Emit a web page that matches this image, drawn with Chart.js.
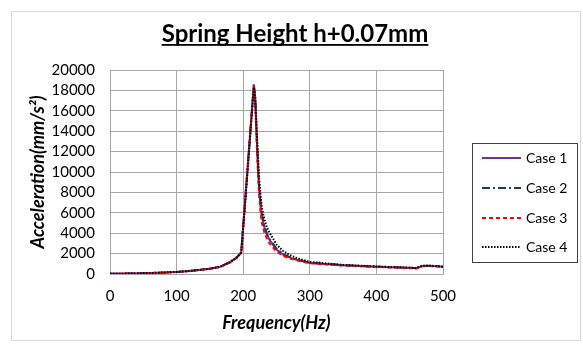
<!DOCTYPE html>
<html>
<head>
<meta charset="utf-8">
<script src="https://cdn.jsdelivr.net/npm/chart.js@4.4.1/dist/chart.umd.min.js"></script>
<style>
  html, body { margin: 0; padding: 0; background: #fff; }
  canvas { display: block; }
</style>
</head>
<body>
<canvas id="c" width="583" height="345"></canvas>
<script>
const chartTitle = 'Spring Height h+0.07mm';
const xTitle = 'Frequency(Hz)';
const yTitle = 'Acceleration(mm/s\u00B2)';
const seriesNames = ['Case 1', 'Case 2', 'Case 3', 'Case 4'];

const freq  = [0, 25, 50, 75, 100, 120, 140, 150, 165, 180, 190, 197, 203, 209, 213, 216, 218, 220, 222, 224, 226, 228, 232, 236, 240, 250, 260, 270, 280, 300, 350, 400, 450, 460, 465, 470, 480, 490, 500];
const case1 = [20, 40, 70, 130, 200, 300, 440, 520, 700, 1150, 1600, 2100, 7300, 12500, 16000, 18600, 17200, 13800, 10700, 8200, 6700, 5600, 4500, 3800, 3300, 2400, 1900, 1600, 1400, 1080, 850, 700, 600, 560, 700, 800, 790, 760, 700];
const case2 = [20, 40, 70, 130, 200, 300, 440, 520, 700, 1150, 1600, 2100, 7200, 12400, 15900, 18500, 17300, 14000, 11000, 8500, 7000, 5800, 4700, 3900, 3400, 2500, 1950, 1650, 1420, 1100, 860, 710, 610, 570, 710, 810, 800, 770, 710];
const case3 = [20, 40, 70, 130, 200, 300, 440, 520, 700, 1150, 1600, 2100, 7300, 12600, 16100, 18500, 17000, 13300, 10100, 7600, 6100, 5000, 4000, 3400, 2950, 2200, 1780, 1520, 1350, 1050, 840, 690, 590, 550, 690, 790, 780, 750, 690];
const case4 = [20, 40, 70, 130, 200, 300, 440, 520, 700, 1150, 1600, 2100, 7000, 12200, 15700, 18300, 17400, 14600, 11800, 9300, 7700, 6500, 5300, 4500, 4000, 2900, 2250, 1850, 1580, 1180, 900, 740, 630, 590, 720, 820, 810, 780, 720];

const xMin = 0, xMax = 500, xStep = 100;
const yMin = 0, yMax = 20000, yStep = 2000;

const styles = [
  { color: '#7030A0', dash: [] },
  { color: '#1F3A5F', dash: [8, 3, 2, 3] },
  { color: '#FF0000', dash: [4, 3] },
  { color: '#000000', dash: [1.5, 1.5] }
];

const allSeries = [case1, case2, case3, case4];
const datasets = allSeries.map((s, i) => ({
  label: seriesNames[i],
  data: freq.map((f, k) => ({ x: f, y: s[k] })),
  borderColor: styles[i].color,
  backgroundColor: styles[i].color,
  borderDash: styles[i].dash,
  borderWidth: 2,
  pointRadius: 0,
  tension: 0,
  fill: false,
  order: allSeries.length - i
}));

const FONT = 'Lato, "Open Sans", sans-serif';

const decorPlugin = {
  id: 'decor',
  beforeDraw(chart) {
    const ctx = chart.ctx;
    ctx.save();
    ctx.fillStyle = '#ffffff';
    ctx.fillRect(0, 0, chart.width, chart.height);
    ctx.strokeStyle = '#D9D9D9';
    ctx.lineWidth = 1;
    ctx.strokeRect(11.5, 11.5, 569, 329);
    ctx.restore();
  },
  afterDraw(chart) {
    const ctx = chart.ctx;
    ctx.save();
    // Title with underline
    ctx.font = 'bold 24px ' + FONT;
    ctx.fillStyle = '#000';
    ctx.textAlign = 'center';
    ctx.textBaseline = 'alphabetic';
    const tx = 295, ty = 42;
    ctx.fillText(chartTitle, tx, ty);
    const w = ctx.measureText(chartTitle).width;
    ctx.fillRect(tx - w / 2, ty + 2, w, 1.8);

    // Legend box
    const lx = 472.5, ly = 143.5, lw = 105, lh = 119;
    ctx.strokeStyle = '#404040';
    ctx.lineWidth = 1;
    ctx.setLineDash([]);
    ctx.strokeRect(lx, ly, lw, lh);
    const rows = [158, 188, 218, 247];
    ctx.font = '14px ' + FONT;
    ctx.textAlign = 'left';
    ctx.textBaseline = 'middle';
    chart.data.datasets.forEach((ds, i) => {
      const y = rows[i];
      ctx.beginPath();
      ctx.setLineDash(ds.borderDash || []);
      ctx.strokeStyle = ds.borderColor;
      ctx.lineWidth = ds.borderWidth;
      ctx.moveTo(482, y);
      ctx.lineTo(521, y);
      ctx.stroke();
      ctx.setLineDash([]);
      ctx.fillStyle = '#000';
      ctx.fillText(ds.label, 526, y);
    });
    ctx.restore();
  }
};

new Chart(document.getElementById('c'), {
  type: 'line',
  data: { datasets },
  plugins: [decorPlugin],
  options: {
    responsive: false,
    animation: false,
    layout: { padding: { left: 12, top: 70, right: 140, bottom: 0 } },
    plugins: {
      legend: { display: false },
      title: { display: false },
      tooltip: { enabled: false }
    },
    scales: {
      x: {
        type: 'linear',
        min: xMin, max: xMax,
        afterFit(s) { s.height = 71; },
        ticks: {
          stepSize: xStep,
          autoSkip: false,
          color: '#000',
          padding: 13,
          font: { family: FONT, size: 15 },
          maxRotation: 0,
          callback: v => String(v)
        },
        grid: { color: '#A6A6A6', lineWidth: 1, drawTicks: false },
        border: { color: '#A6A6A6' },
        title: {
          display: true, text: xTitle, color: '#000',
          font: { family: FONT, size: 18, weight: 'bold', style: 'italic' },
          padding: { top: 0, bottom: 11 }
        }
      },
      y: {
        type: 'linear',
        min: yMin, max: yMax,
        afterFit(s) { s.width = 98; },
        ticks: {
          stepSize: yStep,
          autoSkip: false,
          color: '#000',
          padding: 15,
          font: { family: FONT, size: 15 },
          callback: v => String(v)
        },
        grid: { color: '#A6A6A6', lineWidth: 1, drawTicks: false },
        border: { color: '#A6A6A6' },
        title: {
          display: true, text: yTitle, color: '#000',
          font: { family: FONT, size: 18, weight: 'bold', style: 'italic' },
          padding: { top: 15, bottom: 0 }
        }
      }
    }
  }
});
</script>
</body>
</html>
